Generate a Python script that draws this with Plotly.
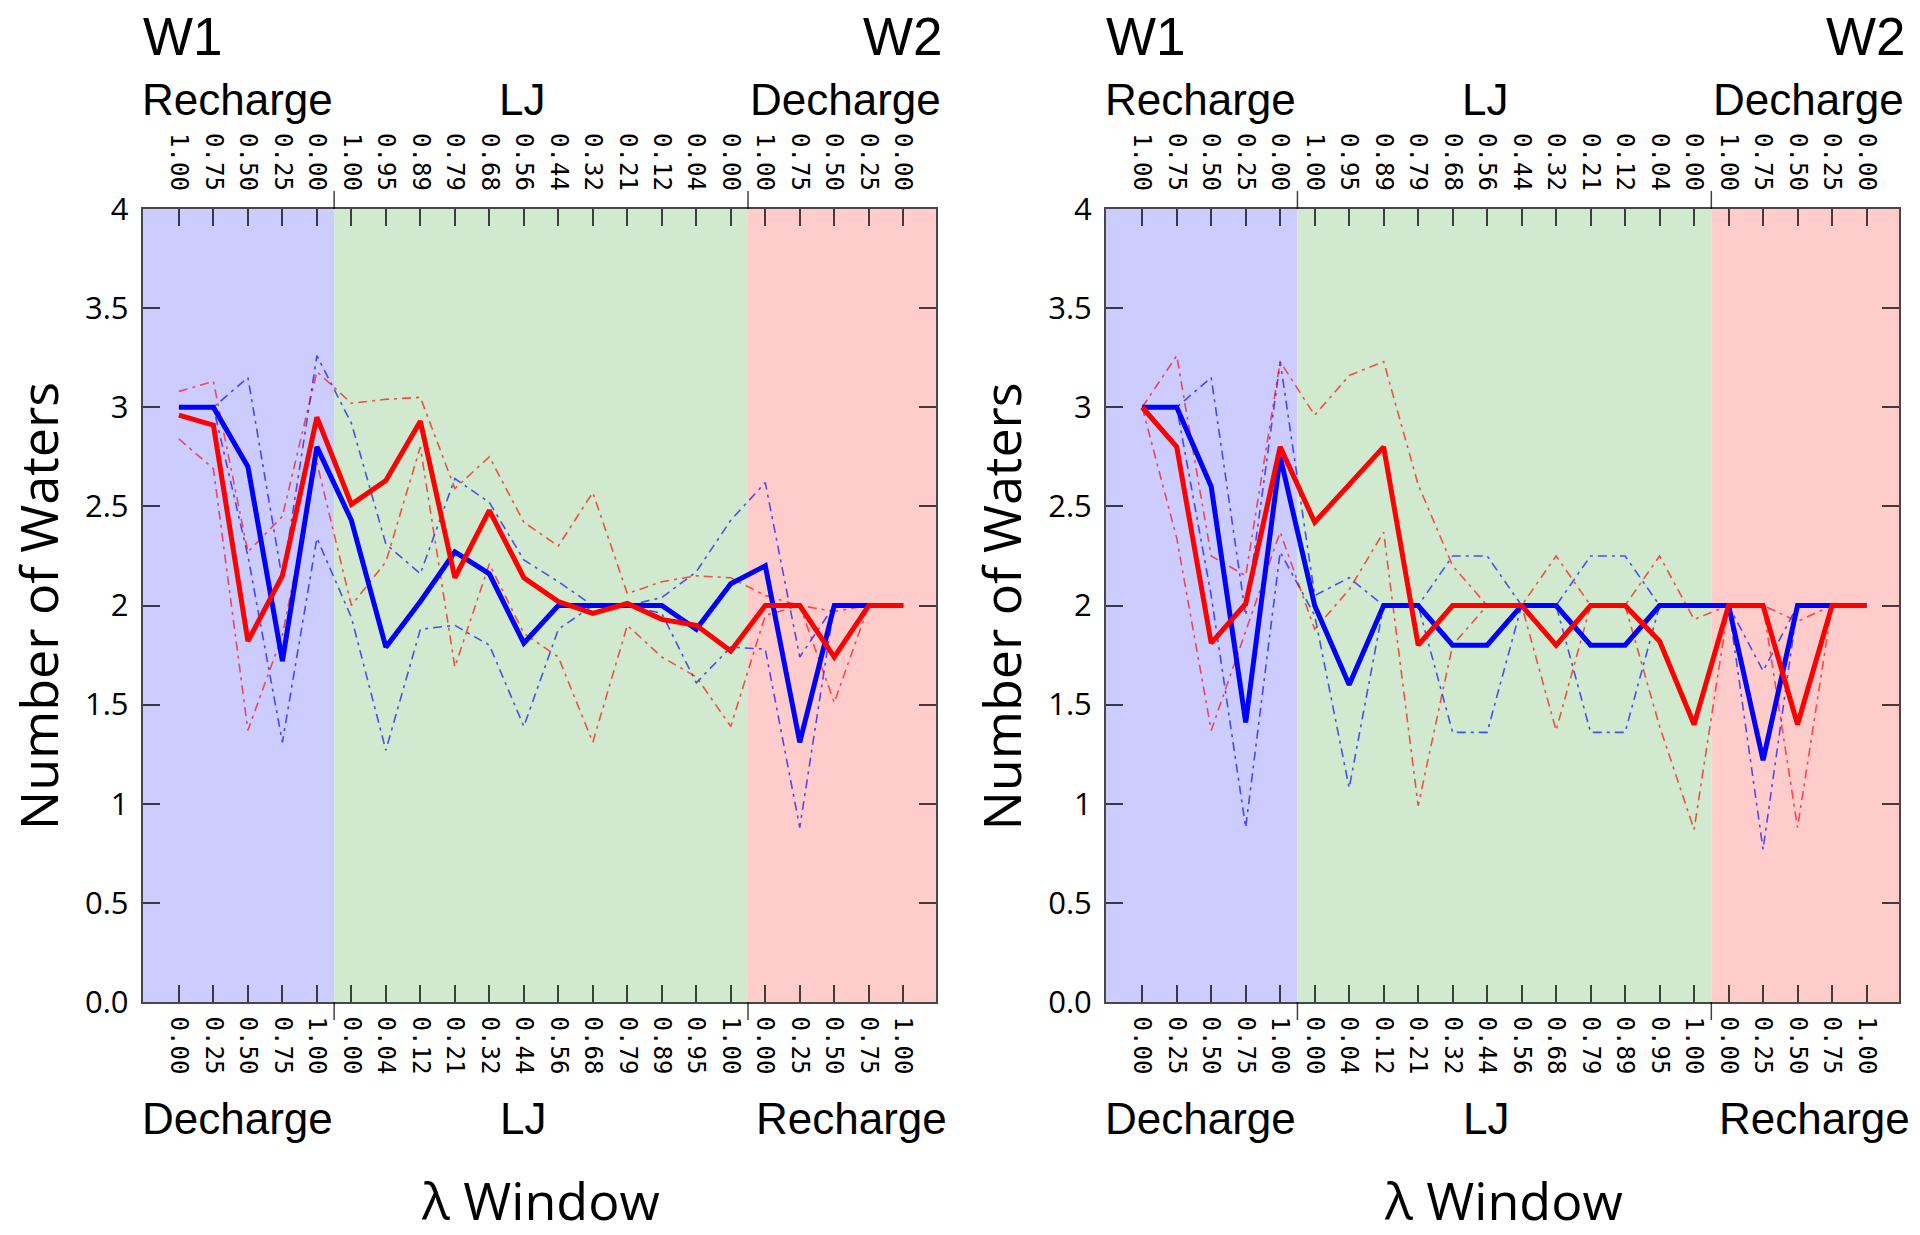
import plotly.graph_objects as go

W, H = 1920, 1235

x_idx = list(range(22))
bottom_labels = ["0.00", "0.25", "0.50", "0.75", "1.00",
                 "0.00", "0.04", "0.12", "0.21", "0.32", "0.44", "0.56", "0.68", "0.79", "0.89", "0.95", "1.00",
                 "0.00", "0.25", "0.50", "0.75", "1.00"]
top_labels = ["1.00", "0.75", "0.50", "0.25", "0.00",
              "1.00", "0.95", "0.89", "0.79", "0.68", "0.56", "0.44", "0.32", "0.21", "0.12", "0.04", "0.00",
              "1.00", "0.75", "0.50", "0.25", "0.00"]
y_ticks = [0, 0.5, 1, 1.5, 2, 2.5, 3, 3.5, 4]
y_tick_text = ["0.0", "0.5", "1", "1.5", "2", "2.5", "3", "3.5", "4"]

# Panel 1
p1_blue = [3.0, 3.0, 2.7, 1.72, 2.8, 2.43, 1.79, 2.02, 2.27, 2.16, 1.81, 2.0, 2.0, 2.0, 2.0, 1.88, 2.11, 2.2, 1.31, 2.0, 2.0, 2.0]
p1_blue_hi = [3.0, 3.0, 3.15, 2.13, 3.26, 2.92, 2.31, 2.16, 2.64, 2.52, 2.23, 2.12, 2.0, 2.0, 2.04, 2.17, 2.43, 2.62, 1.74, 2.0, 2.0, 2.0]
p1_blue_lo = [3.0, 3.0, 2.25, 1.31, 2.34, 1.94, 1.27, 1.88, 1.90, 1.80, 1.39, 1.88, 2.0, 2.0, 1.96, 1.61, 1.79, 1.78, 0.88, 2.0, 2.0, 2.0]
p1_red = [2.96, 2.91, 1.82, 2.15, 2.95, 2.51, 2.63, 2.93, 2.14, 2.48, 2.14, 2.02, 1.96, 2.01, 1.93, 1.90, 1.77, 2.0, 2.0, 1.74, 2.0, 2.0]
p1_red_hi = [3.08, 3.13, 2.27, 2.45, 3.18, 3.02, 3.04, 3.05, 2.59, 2.75, 2.42, 2.30, 2.57, 2.06, 2.12, 2.15, 2.14, 2.05, 2.0, 1.97, 2.0, 2.0]
p1_red_lo = [2.84, 2.69, 1.37, 1.85, 2.72, 2.0, 2.22, 2.80, 1.69, 2.21, 1.86, 1.74, 1.31, 1.90, 1.74, 1.64, 1.39, 1.95, 2.0, 1.51, 2.0, 2.0]

# Panel 2
p2_blue = [3.0, 3.0, 2.6, 1.41, 2.75, 2.0, 1.6, 2.0, 2.0, 1.8, 1.8, 2.0, 2.0, 1.8, 1.8, 2.0, 2.0, 2.0, 1.22, 2.0, 2.0, 2.0]
p2_blue_hi = [3.0, 3.0, 3.15, 1.95, 3.23, 2.05, 2.14, 2.0, 2.0, 2.25, 2.25, 2.0, 2.0, 2.25, 2.25, 2.0, 2.0, 2.0, 1.67, 2.0, 2.0, 2.0]
p2_blue_lo = [3.0, 3.0, 2.05, 0.88, 2.27, 1.95, 1.08, 2.0, 2.0, 1.36, 1.36, 2.0, 2.0, 1.36, 1.36, 2.0, 2.0, 2.0, 0.77, 2.0, 2.0, 2.0]
p2_red = [3.0, 2.8, 1.81, 2.01, 2.8, 2.42, 2.61, 2.8, 1.8, 2.0, 2.0, 2.0, 1.8, 2.0, 2.0, 1.82, 1.4, 2.0, 2.0, 1.4, 2.0, 2.0]
p2_red_hi = [3.0, 3.26, 2.25, 2.15, 3.23, 2.96, 3.16, 3.23, 2.61, 2.2, 2.0, 2.0, 2.25, 2.0, 2.0, 2.25, 1.93, 2.0, 2.0, 1.92, 2.0, 2.0]
p2_red_lo = [3.0, 2.34, 1.37, 1.87, 2.37, 1.88, 2.08, 2.37, 0.99, 1.8, 2.0, 2.0, 1.37, 2.0, 2.0, 1.39, 0.87, 2.0, 2.0, 0.88, 2.0, 2.0]

BLUE = "#0000ff"
RED = "#ff0000"
SHADE_BLUE = "#ccccff"
SHADE_GREEN = "#d0e9cf"
SHADE_RED = "#ffcccc"
AX = "rgba(0,0,0,0.72)"
X_RANGE = [-1.05, 21.95]

fig = go.Figure()

panels = [
    dict(xa="x", xt="x3", ya="y", dom=[142.7 / W, 936 / W],
         blue=p1_blue, bhi=p1_blue_hi, blo=p1_blue_lo, red=p1_red, rhi=p1_red_hi, rlo=p1_red_lo, dx=0.0),
    dict(xa="x2", xt="x4", ya="y2", dom=[1106 / W, 1899.3 / W],
         blue=p2_blue, bhi=p2_blue_hi, blo=p2_blue_lo, red=p2_red, rhi=p2_red_hi, rlo=p2_red_lo, dx=963.3),
]

ydom = [1 - 1002 / H, 1 - 209 / H]
plot_h = 1002 - 209

for p in panels:
    for ys, col in [(p["bhi"], BLUE), (p["blo"], BLUE), (p["rhi"], RED), (p["rlo"], RED)]:
        fig.add_trace(go.Scatter(x=x_idx, y=ys, xaxis=p["xa"], yaxis=p["ya"], mode="lines",
                                 line=dict(color=col, width=1.6, dash="9px,5px,3px,5px"),
                                 opacity=0.65, showlegend=False, hoverinfo="skip"))
    fig.add_trace(go.Scatter(x=x_idx, y=p["blue"], xaxis=p["xa"], yaxis=p["ya"], mode="lines",
                             line=dict(color=BLUE, width=5), showlegend=False))
    fig.add_trace(go.Scatter(x=x_idx, y=p["red"], xaxis=p["xa"], yaxis=p["ya"], mode="lines",
                             line=dict(color=RED, width=5), showlegend=False))
    # invisible trace to anchor the top axis
    fig.add_trace(go.Scatter(x=x_idx, y=p["red"], xaxis=p["xt"], yaxis=p["ya"], mode="lines",
                             line=dict(width=0), opacity=0, showlegend=False, hoverinfo="skip"))

    for x0, x1, c in [(X_RANGE[0], 4.5, SHADE_BLUE), (4.5, 16.5, SHADE_GREEN), (16.5, X_RANGE[1], SHADE_RED)]:
        fig.add_shape(type="rect", xref=p["xa"], yref=p["ya"] + " domain", x0=x0, x1=x1, y0=0, y1=1,
                      fillcolor=c, line=dict(width=0), layer="below")
    ext = 18 / plot_h
    for xs in [4.5, 16.5]:
        fig.add_shape(type="line", xref=p["xa"], yref=p["ya"] + " domain", x0=xs, x1=xs, y0=1, y1=1 + ext,
                      line=dict(color="rgba(0,0,0,0.75)", width=1.5))
        fig.add_shape(type="line", xref=p["xa"], yref=p["ya"] + " domain", x0=xs, x1=xs, y0=0, y1=-ext,
                      line=dict(color="rgba(0,0,0,0.75)", width=1.5))

    dx = p["dx"]

    def ann(text, px, py, size, family, angle=0):
        fig.add_annotation(text=text, x=(px + dx) / W, y=1 - py / H, xref="paper", yref="paper",
                           xanchor="center", yanchor="middle", showarrow=False, textangle=angle,
                           font=dict(size=size, family=family, color="black"))

    SANS = "Liberation Sans, Arial, sans-serif"
    ann("W1", 183, 36, 53, SANS)
    ann("W2", 903, 36, 53, SANS)
    ann("Recharge", 237, 99, 44, SANS)
    ann("LJ", 522, 99, 44, SANS)
    ann("Decharge", 845, 99, 44, SANS)
    ann("Decharge", 237, 1118, 44, SANS)
    ann("LJ", 523, 1118, 44, SANS)
    ann("Recharge", 851, 1118, 44, SANS)
    ann("λ Window", 540, 1199, 52, "Open Sans, sans-serif")
    ann("Number of Waters", 37, 606, 52, "Open Sans, sans-serif", angle=-90)

common_x = dict(range=X_RANGE, tickmode="array", tickvals=x_idx, tickangle=90,
                ticks="inside", ticklen=17, tickwidth=2, tickcolor=AX, automargin=False,
                showline=True, linecolor=AX, linewidth=1.5, showgrid=False, zeroline=False,
                tickfont=dict(family="DejaVu Sans Mono, monospace", size=24, color="black"))
common_y = dict(range=[0, 4], tickmode="array", tickvals=y_ticks, ticktext=y_tick_text,
                ticks="inside", ticklen=17, tickwidth=2, tickcolor=AX, mirror="ticks", automargin=False,
                showline=True, linecolor=AX, linewidth=2, showgrid=False, zeroline=False,
                tickfont=dict(family="Open Sans, sans-serif", size=31, color="black"),
                domain=ydom, ticklabelstandoff=6)

fig.update_layout(
    width=W, height=H, margin=dict(l=0, r=0, t=0, b=0, pad=0, autoexpand=False),
    paper_bgcolor="white", plot_bgcolor="white", showlegend=False,
    xaxis=dict(common_x, domain=panels[0]["dom"], anchor="y", ticktext=bottom_labels, side="bottom",
               ticklabelstandoff=8),
    xaxis3=dict(common_x, overlaying="x", anchor="y", ticktext=top_labels, side="top",
                ticklabelstandoff=8),
    xaxis2=dict(common_x, domain=panels[1]["dom"], anchor="y2", ticktext=bottom_labels, side="bottom",
                ticklabelstandoff=8),
    xaxis4=dict(common_x, overlaying="x2", anchor="y2", ticktext=top_labels, side="top",
                ticklabelstandoff=8),
    yaxis=dict(common_y, anchor="x"),
    yaxis2=dict(common_y, anchor="x2"),
)

fig.write_html("out.html", config={"displayModeBar": False},
               post_script="document.body.style.margin='0';document.body.style.overflow='hidden';")
